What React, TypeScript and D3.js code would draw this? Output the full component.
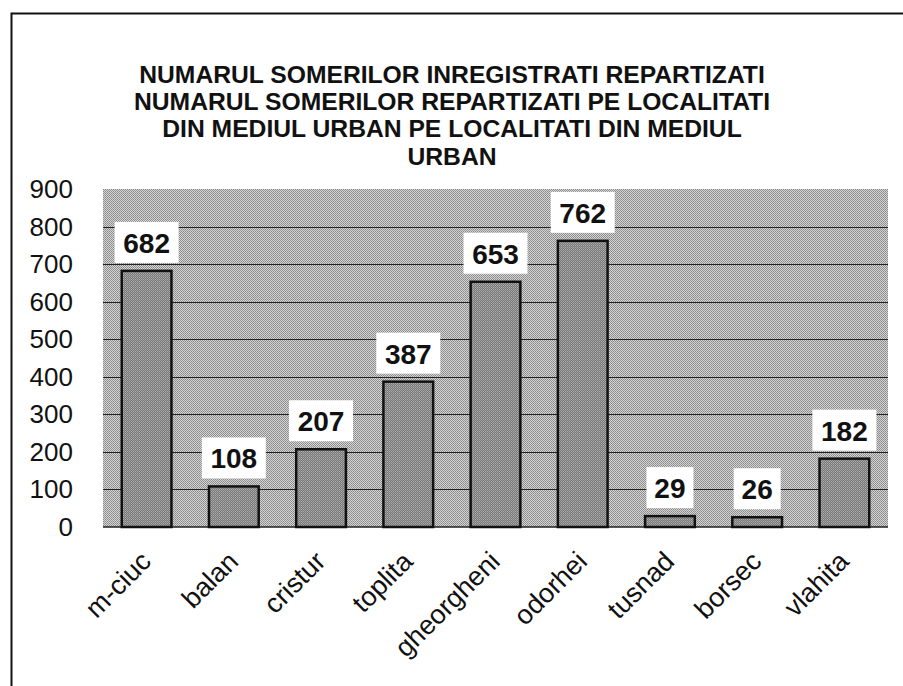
import React, { useRef, useEffect } from 'react';
import * as d3 from 'd3';

// chart data
const categories = ['m-ciuc', 'balan', 'cristur', 'toplita', 'gheorgheni', 'odorhei', 'tusnad', 'borsec', 'vlahita'];
const values = [682, 108, 207, 387, 653, 762, 29, 26, 182];
const yTicks = [0, 100, 200, 300, 400, 500, 600, 700, 800, 900];
const titleLines = [
  'NUMARUL SOMERILOR INREGISTRATI REPARTIZATI',
  'NUMARUL SOMERILOR REPARTIZATI PE LOCALITATI',
  'DIN MEDIUL URBAN PE LOCALITATI DIN MEDIUL',
  'URBAN',
];

const W = 903;
const H = 686;

const App = () => {
  const svgRef = useRef<SVGSVGElement | null>(null);

  useEffect(() => {
    if (!svgRef.current) return;
    const svg = d3.select(svgRef.current);
    svg.selectAll('*').remove();

    const margin = { top: 189, right: 15, bottom: 159, left: 103 };
    const innerW = W - margin.left - margin.right;
    const innerH = H - margin.top - margin.bottom;
    const font = 'Liberation Sans, Arial, sans-serif';

    // dithered fills, like the scanned print
    const defs = svg.append('defs');
    const bgPat = defs.append('pattern')
      .attr('id', 'bgDither')
      .attr('width', 2).attr('height', 2)
      .attr('patternUnits', 'userSpaceOnUse');
    bgPat.append('rect').attr('width', 2).attr('height', 2).attr('fill', '#d4d4d4');
    bgPat.append('rect').attr('width', 1).attr('height', 1).attr('fill', '#888');
    bgPat.append('rect').attr('x', 1).attr('y', 1).attr('width', 1).attr('height', 1).attr('fill', '#959595');

    const barPat = defs.append('pattern')
      .attr('id', 'barDither')
      .attr('width', 2).attr('height', 2)
      .attr('patternUnits', 'userSpaceOnUse');
    barPat.append('rect').attr('width', 2).attr('height', 2).attr('fill', '#777');
    barPat.append('rect').attr('width', 1).attr('height', 1).attr('fill', '#b0b0b0');
    barPat.append('rect').attr('x', 1).attr('y', 1).attr('width', 1).attr('height', 1).attr('fill', '#9c9c9c');

    // frame (left and top edges only)
    svg.append('path')
      .attr('d', `M11.5,${H} L11.5,13.5 L${W},13.5`)
      .attr('fill', 'none')
      .attr('stroke', '#111')
      .attr('stroke-width', 2);

    // title, one text per line
    titleLines.forEach((line, i) => {
      svg.append('text')
        .attr('transform', `translate(452,${83 + i * 27.2}) scale(1.05,1)`)
        .attr('text-anchor', 'middle')
        .attr('font-family', font)
        .attr('font-weight', 'bold')
        .attr('font-size', 23.5)
        .attr('fill', '#111')
        .text(line);
    });

    const x = d3.scaleBand<string>()
      .domain(categories)
      .range([0, innerW])
      .paddingInner(0.43)
      .paddingOuter(0.215);

    const y = d3.scaleLinear()
      .domain([0, 900])
      .range([innerH, 0]);

    const g = svg.append('g')
      .attr('transform', `translate(${margin.left},${margin.top})`);

    // plot background
    g.append('rect')
      .attr('width', innerW)
      .attr('height', innerH)
      .attr('fill', 'url(#bgDither)');

    // gridlines
    g.selectAll('.grid')
      .data(yTicks.filter(t => t > 0 && t < 900))
      .enter()
      .append('line')
      .attr('x1', 0)
      .attr('x2', innerW)
      .attr('y1', d => Math.round(y(d)) + 0.5)
      .attr('y2', d => Math.round(y(d)) + 0.5)
      .attr('stroke', '#222')
      .attr('stroke-width', 1.2);

    // baseline
    g.append('line')
      .attr('x1', 0).attr('x2', innerW)
      .attr('y1', innerH).attr('y2', innerH)
      .attr('stroke', '#222')
      .attr('stroke-width', 1.5);

    // y axis labels
    g.selectAll('.ylab')
      .data(yTicks)
      .enter()
      .append('text')
      .attr('x', -30)
      .attr('y', d => y(d) + 9)
      .attr('text-anchor', 'end')
      .attr('font-family', font)
      .attr('font-size', 26)
      .attr('fill', '#111')
      .text(d => d);

    // bars
    g.selectAll('.bar')
      .data(values)
      .enter()
      .append('rect')
      .attr('x', (d, i) => x(categories[i])!)
      .attr('y', d => y(d))
      .attr('width', x.bandwidth())
      .attr('height', d => innerH - y(d))
      .attr('fill', 'url(#barDither)')
      .attr('stroke', '#111')
      .attr('stroke-width', 2.5);

    // value labels with white boxes
    const labels = g.selectAll('.vlab')
      .data(values)
      .enter()
      .append('g')
      .attr('transform', (d, i) => `translate(${x(categories[i])! + x.bandwidth() / 2},${y(d)})`);

    labels.append('rect')
      .attr('x', d => -(String(d).length * 17 + 13) / 2)
      .attr('y', -49)
      .attr('width', d => String(d).length * 17 + 13)
      .attr('height', 41)
      .attr('fill', '#fff');

    labels.append('text')
      .attr('text-anchor', 'middle')
      .attr('y', -18)
      .attr('font-family', font)
      .attr('font-weight', 'bold')
      .attr('font-size', 28)
      .attr('fill', '#111')
      .text(d => d);

    // category labels, rotated
    g.selectAll('.xlab')
      .data(categories)
      .enter()
      .append('text')
      .attr('transform', d => `translate(${x(d)! + x.bandwidth() / 2 + 6},${innerH + 36}) rotate(-45)`)
      .attr('text-anchor', 'end')
      .attr('font-family', font)
      .attr('font-size', 27)
      .attr('fill', '#111')
      .text(d => d);
  }, []);

  return (
    <div style={{ position: 'absolute', left: 0, top: 0, width: W, height: H, background: '#fff' }}>
      <svg ref={svgRef} width={W} height={H} />
    </div>
  );
};

export default App;
